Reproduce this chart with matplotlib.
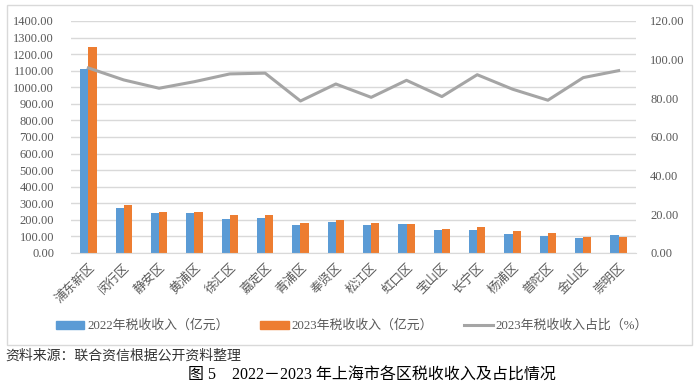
import matplotlib.pyplot as plt
import numpy as np
from matplotlib.patches import Rectangle
from matplotlib.lines import Line2D

plt.rcParams['font.family'] = ['Liberation Serif', 'Noto Sans CJK SC', 'DejaVu Sans']

districts = ["浦东新区", "闵行区", "静安区", "黄浦区", "徐汇区", "嘉定区", "青浦区", "奉贤区",
             "松江区", "虹口区", "宝山区", "长宁区", "杨浦区", "普陀区", "金山区", "崇明区"]
tax_2022 = [1110, 274, 240, 240, 205, 213, 169, 189, 167, 173, 139, 139, 115, 103, 91, 107]
tax_2023 = [1242, 288, 246, 249, 229, 229, 183, 201, 181, 173, 145, 155, 131, 119, 98, 95]
share_2023 = [95.7, 89.5, 85.2, 88.6, 92.6, 93.0, 78.6, 87.4,
              80.5, 89.3, 80.9, 92.2, 84.7, 79.0, 90.7, 94.3]

blue = "#5b9bd5"
orange = "#ed7d31"
grey = "#a5a5a5"
txt = "#595959"

fig = plt.figure(figsize=(7, 3.88), dpi=100)
ax = fig.add_axes([0.101, 0.348, 0.808, 0.598])
ax2 = ax.twinx()

x = np.arange(len(districts))
w = 0.23
ax.bar(x - w / 2, tax_2022, w, color=blue, zorder=2)
ax.bar(x + w / 2, tax_2023, w, color=orange, zorder=2)
ax2.plot(x, share_2023, color=grey, lw=2.2, zorder=3)

ax.set_xlim(-0.5, len(districts) - 0.5)
ax.set_ylim(0, 1400)
ax.set_yticks(np.arange(0, 1401, 100))
ax.set_yticklabels([f"{v:.2f}" for v in np.arange(0, 1401, 100)])
ax.grid(axis="y", color="#d9d9d9", lw=1, zorder=0)
ax.set_axisbelow(True)

ax2.set_ylim(0, 120)
ax2.set_yticks(np.arange(0, 121, 20))
ax2.set_yticklabels([f"{v:.2f}" for v in np.arange(0, 121, 20)])

ax.set_xticks(x)
ax.set_xticklabels(districts, rotation=45, ha="right", rotation_mode="anchor",
                   fontsize=8.5, color=txt)

for a in (ax, ax2):
    for s in a.spines.values():
        s.set_visible(False)
    a.tick_params(length=0, labelsize=9, labelcolor=txt)
ax.spines["bottom"].set_visible(True)
ax.spines["bottom"].set_color("#d9d9d9")
ax.tick_params(axis="x", pad=6)
ax.tick_params(axis="y", pad=12)
ax2.tick_params(axis="y", pad=10)

handles = [Rectangle((0, 0), 1, 1, color=blue), Rectangle((0, 0), 1, 1, color=orange),
           Line2D([], [], color=grey, lw=2.2)]
labels = ["2022年税收收入（亿元）", "2023年税收收入（亿元）", "2023年税收收入占比（%）"]
fig.legend(handles, labels, loc="center", bbox_to_anchor=(0.503, 1 - 326 / 388), ncol=3,
           frameon=False, fontsize=9.3, labelcolor=txt, handlelength=2.2,
           handleheight=0.6, handletextpad=0.25, columnspacing=2.4)

fig.patches.append(Rectangle((7 / 700, 1 - 345 / 388), 685 / 700, 340 / 388,
                             transform=fig.transFigure, fill=False,
                             edgecolor="#d9d9d9", lw=1))

fig.text(5 / 700, 1 - 356 / 388, "资料来源：联合资信根据公开资料整理", fontsize=10,
         color="#333333", va="center", family=["Noto Sans CJK SC"])
fig.text(372 / 700, 1 - 376 / 388, "图 5    2022－2023 年上海市各区税收收入及占比情况",
         fontsize=11.5, color="black", va="center", ha="center", weight="medium")

fig.savefig("out.png", dpi=100)
